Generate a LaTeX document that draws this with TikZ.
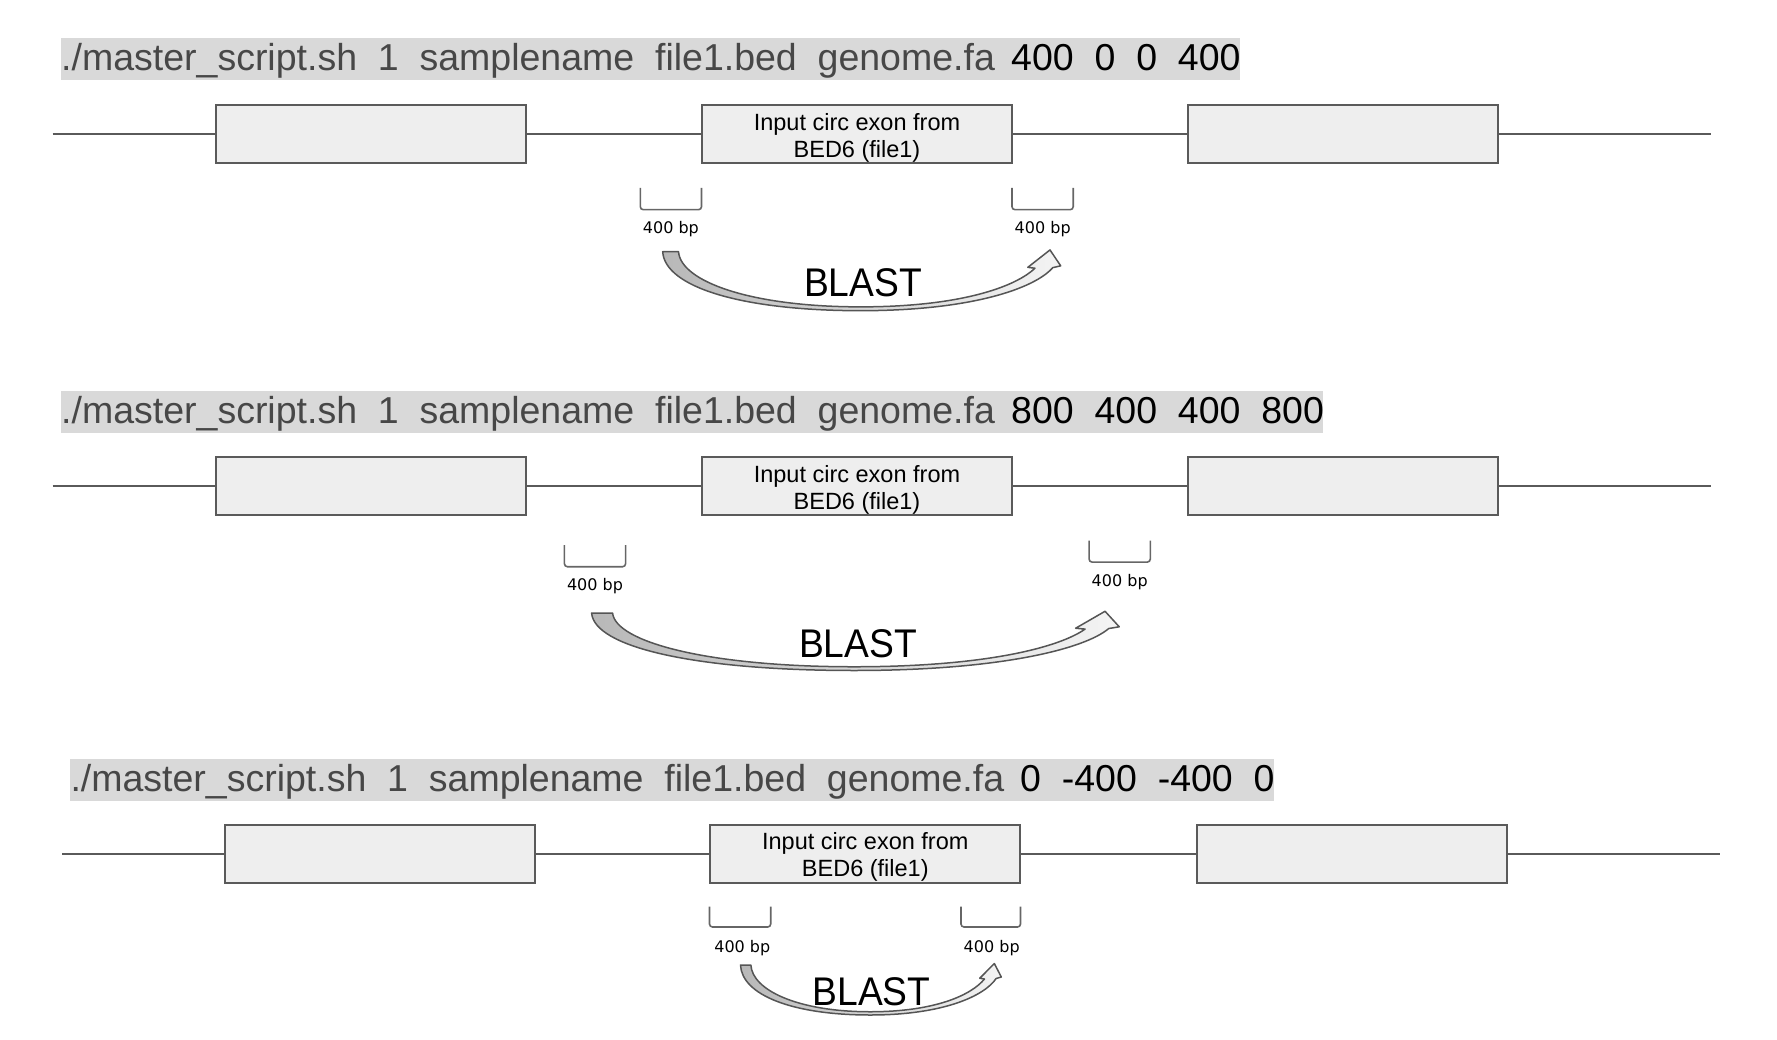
\documentclass[tikz,border=0pt]{standalone}
\usepackage{fontspec}
\setmainfont{Liberation Sans}
\newfontfamily\dejavu{DejaVu Sans}
\definecolor{barfill}{HTML}{D9D9D9}
\definecolor{cmdgray}{HTML}{474747}
\definecolor{exfill}{HTML}{EEEEEE}
\definecolor{exline}{HTML}{5A5A5A}
\definecolor{brk}{HTML}{666666}
\definecolor{arrowline}{HTML}{555555}
\definecolor{arrowdark}{HTML}{B8B8B8}
\definecolor{arrowlight}{HTML}{F4F4F4}
\newcommand{\blastarrow}[4]{%
  \begin{scope}[shift={(#1,#2)}, xscale=#3, yscale=#4]
    \path[draw=arrowline, line width=1.5pt, line join=round, left color=arrowdark, right color=arrowlight]
      (0,0) .. controls (0.005,0.6) and (0.2,1.0) .. (0.5,1.0)
      .. controls (0.78,1.0) and (0.94,0.62) .. (0.985,0.27)
      -- (1.005,0.24) -- (0.978,-0.03) -- (0.922,0.265) -- (0.94,0.28)
      .. controls (0.89,0.6) and (0.75,0.935) .. (0.5,0.935)
      .. controls (0.22,0.935) and (0.045,0.5) .. (0.04,0) -- cycle;
  \end{scope}}
\begin{document}
\begin{tikzpicture}[x=1pt,y=-1pt,
  exon/.style={draw=exline, fill=exfill, line width=2pt, minimum width=310pt, minimum height=58pt, inner sep=0pt, outer sep=0pt},
  dna/.style={draw=exline, line width=2pt},
  bracketline/.style={draw=brk, line width=1.6pt, rounded corners=3pt},
  bplabel/.style={font=\dejavu\fontsize{16}{19}\selectfont, anchor=base, inner sep=0pt},
  cmd/.style={font=\fontsize{37.5}{45}\selectfont, text=cmdgray, anchor=base west, inner sep=0pt},
  val/.style={font=\fontsize{37.5}{45}\selectfont, text=black, anchor=base west, inner sep=0pt},
  blast/.style={font=\fontsize{40}{48}\selectfont, anchor=base, inner sep=0pt},
  exontext/.style={font=\fontsize{23.5}{27}\selectfont, align=center, inner sep=0pt},
]
\useasboundingbox (0,0) rectangle (1777,1040);

% ---------------- Panel 1 ----------------
\fill[barfill] (61,38) rectangle (1002,80);
\fill[barfill] (1002,38) rectangle (1240,80);
\node[cmd] (cmd1) at (61,71) {./master\_script.sh~~1~~samplename~~file1.bed~~genome.fa};
\node[val] (val1) at (1011,71) {400~~0~~0~~400};

\coordinate (l1s) at (52.7,134);
\coordinate (l1e) at (1711.3,134);
\node[exon] (b11) at (370.8,134) {};
\node[exon] (b12) at (857,134) {};
\node[exon] (b13) at (1342.5,134) {};
\node[exontext] (t12) at (857,137.5) {Input circ exon from\\BED6 (file1)};
\draw[dna] (l1s) -- (b11.west) (b11.east) -- (b12.west) (b12.east) -- (b13.west) (b13.east) -- (l1e);

\draw[bracketline] (640.3,188) -- (640.3,209.7) -- (701.5,209.7) -- (701.5,188);
\draw[bracketline] (1012,188) -- (1012,209.7) -- (1073.2,209.7) -- (1073.2,188);
\node[bplabel] (bp11) at (670.9,233.5) {400 bp};
\node[bplabel] (bp12) at (1042.7,233.5) {400 bp};
\blastarrow{662.7}{251.7}{396}{59}
\node[blast] (blast1) at (863,297) {\scalebox{0.93}[1]{BLAST}};

% ---------------- Panel 2 ----------------
\fill[barfill] (61,390.5) rectangle (1002,432.5);
\fill[barfill] (1002,390.5) rectangle (1322.6,432.5);
\node[cmd] (cmd2) at (61,423.5) {./master\_script.sh~~1~~samplename~~file1.bed~~genome.fa};
\node[val] (val2) at (1011,423.5) {800~~400~~400~~800};

\coordinate (l2s) at (52.7,486.2);
\coordinate (l2e) at (1711.3,486.2);
\node[exon] (b21) at (370.8,486.2) {};
\node[exon] (b22) at (857,486.2) {};
\node[exon] (b23) at (1342.5,486.2) {};
\node[exontext] (t22) at (857,489.7) {Input circ exon from\\BED6 (file1)};
\draw[dna] (l2s) -- (b21.west) (b21.east) -- (b22.west) (b22.east) -- (b23.west) (b23.east) -- (l2e);

\draw[bracketline] (564.4,545.1) -- (564.4,566.7) -- (625.6,566.7) -- (625.6,545.1);
\draw[bracketline] (1089.1,540.6) -- (1089.1,562.1) -- (1150.3,562.1) -- (1150.3,540.6);
\node[bplabel] (bp21) at (595,590.6) {400 bp};
\node[bplabel] (bp22) at (1119.7,586.1) {400 bp};
\blastarrow{591.6}{613}{525}{57.5}
\node[blast] (blast2) at (858,657.5) {\scalebox{0.93}[1]{BLAST}};

% ---------------- Panel 3 ----------------
\fill[barfill] (70.3,759) rectangle (1011,800.5);
\fill[barfill] (1011,759) rectangle (1273.8,800.5);
\node[cmd] (cmd3) at (70.3,791.8) {./master\_script.sh~~1~~samplename~~file1.bed~~genome.fa};
\node[val] (val3) at (1020,791.8) {0~~-400~~-400~~0};

\coordinate (l3s) at (62.3,853.5);
\coordinate (l3e) at (1720.4,853.5);
\node[exon] (b31) at (379.7,853.5) {};
\node[exon] (b32) at (865.3,853.5) {};
\node[exon] (b33) at (1351.5,853.5) {};
\node[exontext] (t32) at (865.3,857) {Input circ exon from\\BED6 (file1)};
\draw[dna] (l3s) -- (b31.west) (b31.east) -- (b32.west) (b32.east) -- (b33.west) (b33.east) -- (l3e);

\draw[bracketline] (709.5,906.7) -- (709.5,927) -- (770.7,927) -- (770.7,906.7);
\draw[bracketline] (961,906.7) -- (961,927) -- (1020.5,927) -- (1020.5,906.7);
\node[bplabel] (bp31) at (742.3,952) {400 bp};
\node[bplabel] (bp32) at (991.7,952) {400 bp};
\blastarrow{740.5}{965}{259.5}{50}
\node[blast] (blast3) at (871.5,1005) {\scalebox{0.93}[1]{BLAST}};
\end{tikzpicture}
\end{document}
